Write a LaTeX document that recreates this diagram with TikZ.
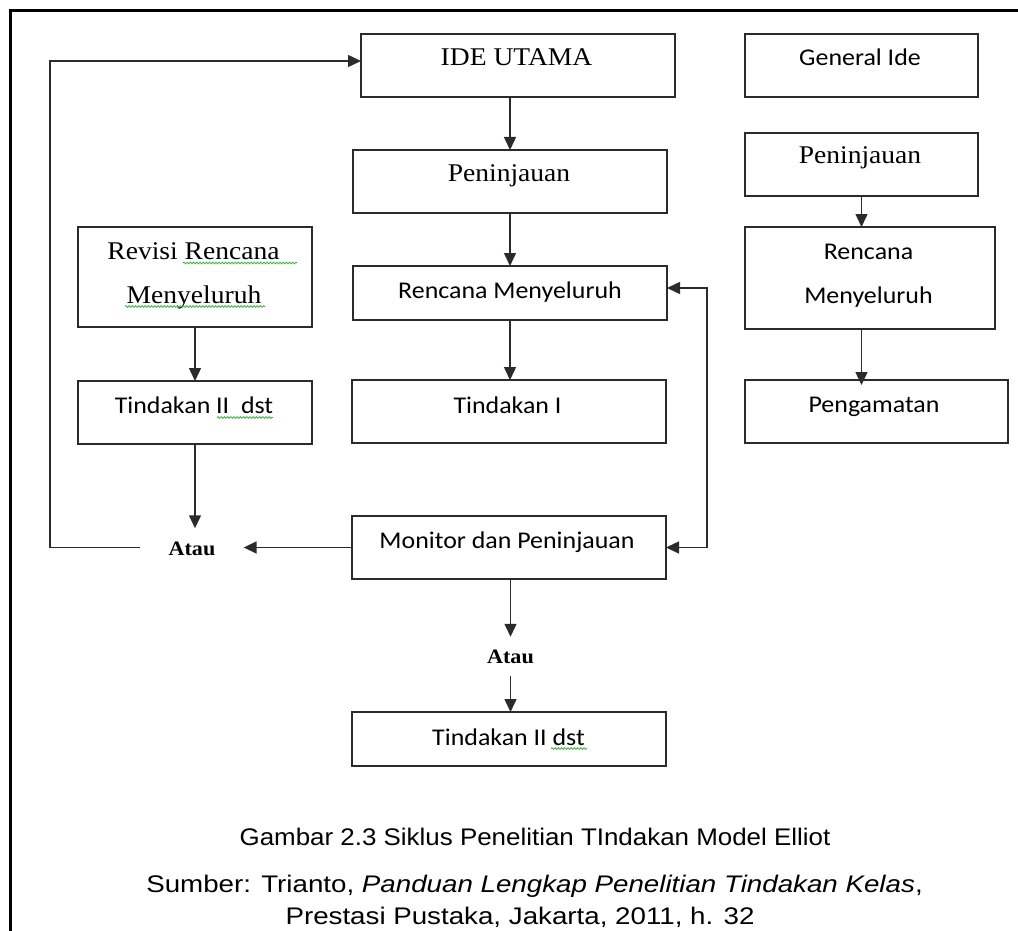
\documentclass[tikz,border=0pt]{standalone}
\usepackage{fontspec}
\setmainfont{Liberation Serif}
\newfontfamily\calibrifont{Carlito}
\newfontfamily\arialfont{Liberation Sans}
\usetikzlibrary{arrows.meta,decorations.pathmorphing}
\definecolor{linegray}{HTML}{2B2B2B}
\definecolor{spellgreen}{HTML}{3FAF3F}
\tikzset{
  box/.style={draw=linegray, line width=1.5pt, rectangle, inner sep=0pt, outer sep=0pt},
  serif/.style={anchor=base, inner sep=0pt, xscale=1.08, font=\fontsize{25.5}{30}\selectfont},
  sans/.style={anchor=base, inner sep=0pt, xscale=1.08, font=\calibrifont\fontsize{24}{28}\selectfont},
  atau/.style={anchor=base, xscale=1.08, font=\bfseries\fontsize{20.5}{24}\selectfont},
  captiontext/.style={anchor=base, inner sep=0pt, font=\arialfont\fontsize{24}{28}\selectfont},
  tip/.style={},
  arr/.style={draw=linegray, line width=1.5pt, -{Triangle[length=13pt,width=12pt]}},
  arrboth/.style={draw=linegray, line width=1.5pt, {Triangle[length=13pt,width=12pt]}-{Triangle[length=13pt,width=12pt]}},
  squiggle/.style={draw=spellgreen, line width=0.8pt, decorate, decoration={snake, amplitude=0.9pt, segment length=3.2pt}}
}
\begin{document}
\begin{tikzpicture}[x=1pt,y=-1pt]
\useasboundingbox (0,0) rectangle (1018,931);
% frame
\draw[line width=3pt, black] (10,940) -- (10,11) -- (1030,11);

% boxes
\node[box, minimum width=314pt, minimum height=63pt] (ide) at (518,65.5) {};
\node[box, minimum width=233pt, minimum height=63pt] (gen) at (861.5,65.5) {};
\node[box, minimum width=314pt, minimum height=63pt] (pen) at (510,181.5) {};
\node[box, minimum width=233pt, minimum height=63pt] (penR) at (861.5,164.5) {};
\node[box, minimum width=234pt, minimum height=100pt] (rev) at (195,277) {};
\node[box, minimum width=314pt, minimum height=54pt] (ren) at (510,293) {};
\node[box, minimum width=250pt, minimum height=102pt] (renR) at (870,278) {};
\node[box, minimum width=234pt, minimum height=63pt] (tindL) at (195,412.5) {};
\node[box, minimum width=314pt, minimum height=63pt] (tindI) at (509,411.5) {};
\node[box, minimum width=263pt, minimum height=63pt] (peng) at (876.5,411.5) {};
\node[box, minimum width=314pt, minimum height=63pt] (mon) at (509,547.5) {};
\node[box, minimum width=314pt, minimum height=54pt] (tindB) at (509,739) {};

% texts
\node[serif] (ideT) at (516.5,66) {IDE UTAMA};
\node[sans] (genT) at (860,66) {General Ide};
\node[serif] (penT) at (509,182) {Peninjauan};
\node[serif] (penRT) at (860,164) {Peninjauan};
\node[serif] (revT1) at (193.5,259) {Revisi Rencana\ };
\node[serif] (revT2) at (194,303) {Menyeluruh};
\node[sans] (renT) at (510,298) {Rencana Menyeluruh};
\node[sans] (renRT1) at (868.5,259) {Rencana};
\node[sans] (renRT2) at (868.5,303) {Menyeluruh};
\node[sans] (tindLT) at (194,413) {Tindakan II\ \ dst};
\node[sans] (tindIT) at (507.5,413) {Tindakan I};
\node[sans] (pengT) at (874,412) {Pengamatan};
\node[sans] (monT) at (507,548) {Monitor dan Peninjauan};
\node[sans] (tindBT) at (508.5,745) {Tindakan II dst};
\node[atau, inner xsep=26pt, inner ysep=13pt] (atauL) at (192,555) {Atau};
\node[atau, inner xsep=4pt, inner ysep=12.5pt] (atauM) at (510.5,663) {Atau};

% spell-check underlines
\draw[squiggle] (183,263) -- (297,263);
\draw[squiggle] (125,306.5) -- (265,306.5);
\draw[squiggle] (217,417.5) -- (273,417.5);
\draw[squiggle] (551,748.5) -- (587,748.5);

% connectors, middle column
\draw[arr] (pen.north |- ide.south) -- (pen.north);
\draw[arr] (pen.south) -- (ren.north);
\draw[arr] (ren.south) -- (ren.south |- tindI.north);
\draw[arr] (mon.south -| atauM) -- (atauM.north);
\draw[arr] (atauM.south) -- (atauM.south |- tindB.north);
\draw[arrboth] ([yshift=5pt]ren.east) -- ++(40,0) |- (mon.east);
\draw[arr] (mon.west) -- (mon.west -| atauL.east);

% left column
\draw[arr] (rev.south) -- (tindL.north);
\draw[arr] (tindL.south) -- (tindL.south |- atauL.north);
\coordinate (loopCorner) at (50,0);
\draw[arr] (mon.west -| atauL.west) -- (mon.west -| loopCorner) |- ([yshift=4.5pt]ide.west);

% right column
\draw[arr] (penR.south) -- (penR.south |- renR.north);
\draw[arr] (penR.south |- renR.south) -- ([yshift=-5pt]penR.south |- peng.north);

% caption
\node[captiontext, xscale=1.08] (cap1) at (535,845) {Gambar 2.3 Siklus Penelitian TIndakan Model Elliot};
\node[captiontext, xscale=1.155] (cap2) at (534.5,892) {Sumber: Trianto, \textit{Panduan Lengkap Penelitian Tindakan Kelas},};
\node[captiontext, xscale=1.155] (cap3) at (520,924) {Prestasi Pustaka, Jakarta, 2011, h. 32};
\end{tikzpicture}
\end{document}
